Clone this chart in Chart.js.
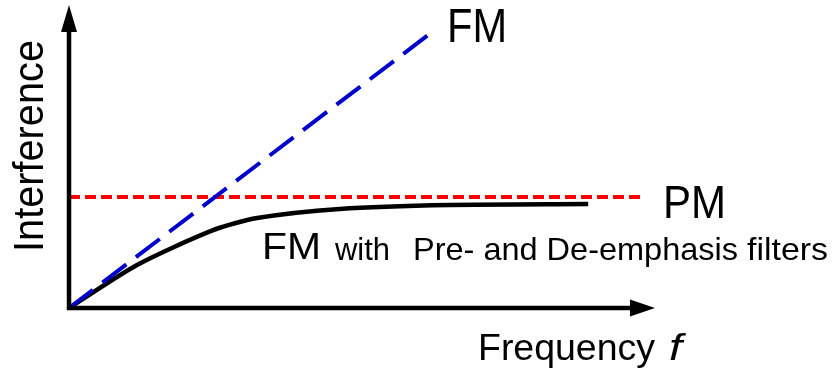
<!DOCTYPE html>
<html>
<head>
<meta charset="utf-8">
<script src="https://cdn.jsdelivr.net/npm/chart.js@4/dist/chart.umd.min.js"></script>
<style>
  html, body { margin: 0; padding: 0; background: #fff; }
  #wrap { width: 832px; height: 371px; }
</style>
</head>
<body>
<div id="wrap"><canvas id="myChart" width="832" height="371"></canvas></div>
<script>
// values (frequency and interference in relative units 0..100)
const fmFreq = [0, 61.3];
const fmVals = [0, 90.1];
const pmFreq = [0, 97.6];
const pmVals = [36.6, 36.6];
const emphFreq = [0, 11.6, 24.6, 32.1, 46.2, 65.0, 88.6];
const emphVals = [0, 14.2, 25.7, 29.7, 32.7, 34.0, 34.3];

function pts(xs, ys){
  return xs.map((x, i) => ({x: x, y: ys[i]}));
}

// draw text squeezed/stretched to a given width
function fitText(ctx, txt, x, y, size, w, italic){
  ctx.save();
  ctx.font = (italic ? 'italic ' : '') + size + 'px "Liberation Sans", Arial, sans-serif';
  const m = ctx.measureText(txt).width;
  ctx.translate(x, y);
  ctx.scale(w / m, 1);
  ctx.fillText(txt, 0, 0);
  ctx.restore();
}

const axesAndText = {
  id: 'axesAndText',
  afterDatasetsDraw(chart){
    const ctx = chart.ctx;
    const a = chart.chartArea;
    ctx.save();
    ctx.strokeStyle = '#000';
    ctx.fillStyle = '#000';
    ctx.lineWidth = 4.5;
    ctx.beginPath();
    ctx.moveTo(a.left, a.bottom + 2);
    ctx.lineTo(a.left, a.top + 25);
    ctx.moveTo(a.left - 2, a.bottom);
    ctx.lineTo(a.right - 22, a.bottom);
    ctx.stroke();
    // arrow heads
    ctx.beginPath();
    ctx.moveTo(a.left, a.top);
    ctx.lineTo(a.left - 8, a.top + 27);
    ctx.lineTo(a.left + 8, a.top + 27);
    ctx.closePath();
    ctx.fill();
    ctx.beginPath();
    ctx.moveTo(a.right, a.bottom);
    ctx.lineTo(a.right - 25, a.bottom - 8.5);
    ctx.lineTo(a.right - 25, a.bottom + 8.5);
    ctx.closePath();
    ctx.fill();

    ctx.textBaseline = 'alphabetic';
    fitText(ctx, 'FM', 447, 42, 48, 60);
    fitText(ctx, 'PM', 663, 218, 47, 63);
    fitText(ctx, 'FM', 262, 259, 37, 59);
    fitText(ctx, 'with', 335, 260, 32, 55);
    fitText(ctx, 'Pre- and De-emphasis', 413, 260, 32, 325);
    fitText(ctx, 'filters', 747, 260, 32, 81);
    fitText(ctx, 'Frequency', 478, 360, 36, 177);
    fitText(ctx, 'f', 669, 360, 36, 13, true);

    ctx.save();
    ctx.translate(43, 252);
    ctx.rotate(-Math.PI / 2);
    fitText(ctx, 'Interference', 0, 0, 42, 212);
    ctx.restore();
    ctx.restore();
  }
};

const data = {
  datasets: [
    {
      label: 'FM',
      data: pts(fmFreq, fmVals),
      borderColor: '#0000cc',
      borderWidth: 4,
      borderDash: [30, 12],
      borderCapStyle: 'butt',
      pointRadius: 0,
      clip: false,
      order: 1
    },
    {
      label: 'PM',
      data: pts(pmFreq, pmVals),
      borderColor: '#ff0000',
      borderWidth: 4,
      borderDash: [11, 5],
      borderCapStyle: 'butt',
      pointRadius: 0,
      clip: false,
      order: 2
    },
    {
      label: 'FM with Pre- and De-emphasis filters',
      data: pts(emphFreq, emphVals),
      borderColor: '#000000',
      borderWidth: 4.5,
      tension: 0.25,
      pointRadius: 0,
      clip: false,
      order: 3
    }
  ]
};

const config = {
  type: 'line',
  data,
  plugins: [axesAndText],
  options: {
    responsive: false,
    animation: false,
    layout: { padding: { left: 69, right: 177, top: 5, bottom: 63 } },
    plugins: { legend: { display: false }, tooltip: { enabled: false } },
    scales: {
      x: { type: 'linear', min: 0, max: 100, display: false },
      y: { min: 0, max: 100, display: false }
    }
  }
};

var myChart = new Chart(document.getElementById('myChart'), config);
</script>
</body>
</html>
